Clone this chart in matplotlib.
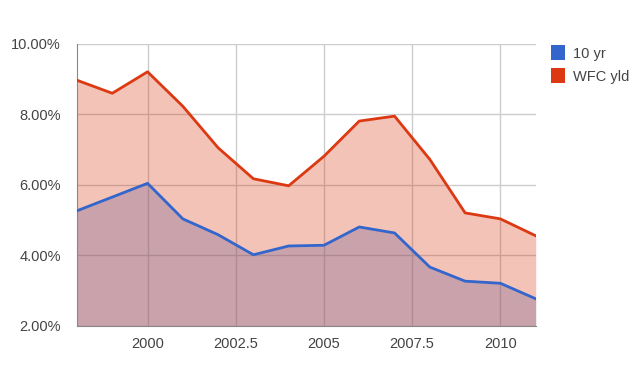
import matplotlib.pyplot as plt
from matplotlib.patches import Patch
from matplotlib.ticker import FuncFormatter

plt.rcParams["font.family"] = ["Liberation Sans", "DejaVu Sans"]

years = [1998, 1999, 2000, 2001, 2002, 2003, 2004, 2005, 2006, 2007, 2008, 2009, 2010, 2011]
ten_yr = [5.26, 5.65, 6.04, 5.03, 4.58, 4.01, 4.26, 4.28, 4.80, 4.63, 3.66, 3.26, 3.20, 2.76]
wfc_yld = [8.97, 8.60, 9.21, 8.23, 7.05, 6.17, 5.97, 6.81, 7.81, 7.95, 6.72, 5.20, 5.03, 4.55]
x_ticks = [2000, 2002.5, 2005, 2007.5, 2010]
y_ticks = [2, 4, 6, 8, 10]

blue = "#3366cc"
red = "#dc3912"
text_col = "#444444"

fig = plt.figure(figsize=(6.4, 3.77), dpi=100)
ax = fig.add_axes([0.1203, 0.1366, 0.837 - 0.1203, 0.8833 - 0.1366])

ax.fill_between(years, 2, ten_yr, color=blue, alpha=0.3, lw=0, zorder=2)
ax.fill_between(years, 2, wfc_yld, color=red, alpha=0.3, lw=0, zorder=2)
ax.plot(years, ten_yr, color=blue, lw=2, zorder=4, solid_joinstyle="round")
ax.plot(years, wfc_yld, color=red, lw=2, zorder=4, solid_joinstyle="round")

ax.set_xlim(1998, 2011)
ax.set_ylim(2, 10)
ax.set_xticks(x_ticks)
ax.set_xticklabels(["2000", "2002.5", "2005", "2007.5", "2010"])
ax.set_yticks(y_ticks)
ax.yaxis.set_major_formatter(FuncFormatter(lambda v, p: f"{v:.2f}%"))

ax.grid(True, color="#cccccc", lw=1, zorder=0)
ax.set_axisbelow(True)
for side in ["top", "right"]:
    ax.spines[side].set_visible(False)
ax.spines["left"].set_color("#888888")
ax.spines["bottom"].set_color("#888888")
ax.tick_params(length=0, labelsize=10.5, labelcolor=text_col)
ax.tick_params(axis="y", pad=11.5)
ax.tick_params(axis="x", pad=8.5)

handles = [Patch(facecolor=blue, edgecolor="none", label="10 yr"),
           Patch(facecolor=red, edgecolor="none", label="WFC yld")]
fig.legend(handles=handles, loc="upper left", bbox_to_anchor=(0.852, 0.895),
           frameon=False, handlelength=0.95, handleheight=1.2, handletextpad=0.55,
           labelspacing=0.5, fontsize=10.5, labelcolor=text_col, borderaxespad=0)

fig.savefig("out.png", dpi=100)
